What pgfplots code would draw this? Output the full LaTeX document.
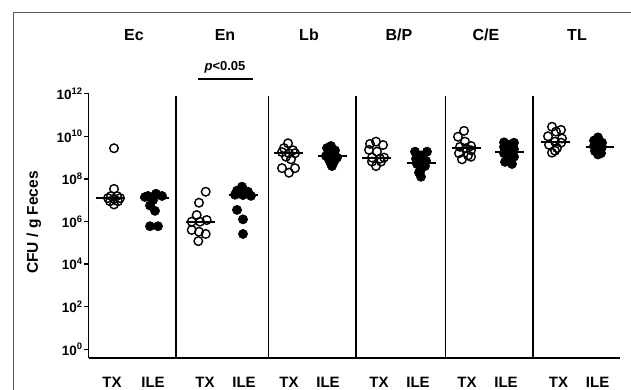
\documentclass[border=0pt]{standalone}
\usepackage{fontspec}
\setmainfont{Liberation Sans}
\usepackage{pgfplots}
\pgfplotsset{compat=1.18}
\begin{document}
\begin{tikzpicture}[x=1pt,y=1pt]
\useasboundingbox (0,0) rectangle (631,390);
\draw[black!65, line width=1pt] (13.3,-5) -- (13.3,377.7) -- (640,377.7);
% titles
\begin{scope}[every node/.style={font=\bfseries\fontsize{16}{18}\selectfont}]
\node at (134,355) {Ec};
\node at (225,355) {En};
\node at (309,355) {Lb};
\node at (399,355) {B/P};
\node at (486,355) {C/E};
\node at (577,355) {TL};
\end{scope}
\node[font=\bfseries\fontsize{13}{15}\selectfont] at (225,323) {\textit{p}<0.05};
\draw[black, line width=1.8pt] (198,311) -- (253,311);
\node[rotate=90, font=\bfseries\fontsize{15.5}{17}\selectfont] at (34,167.5) {CFU / g Feces};
\begin{axis}[
  at={(88.5pt,32pt)}, anchor=south west,
  scale only axis, width=531.5pt, height=264.3pt,
  xmin=88.5, xmax=620, ymode=log, ymin=0.39, ymax=1e12,
  axis x line=bottom, axis y line=left,
  axis line style={-, line width=1.7pt},
  clip=false,
  ytick={1,1e2,1e4,1e6,1e8,1e10,1e12},
  yticklabels={10\textsuperscript{0},10\textsuperscript{2},10\textsuperscript{4},10\textsuperscript{6},10\textsuperscript{8},10\textsuperscript{10},10\textsuperscript{12}},
  yticklabel style={font=\bfseries\fontsize{13.5}{15}\selectfont, inner sep=1.2pt},
  ytick style={line width=1.4pt, black},
  tick align=outside, major tick length=4.5pt,
  minor ytick={},
  xtick={112,153,205,244,289,328,379,418,467,506,558.5,597.6},
  xticklabels={TX,ILE,TX,ILE,TX,ILE,TX,ILE,TX,ILE,TX,ILE},
  xticklabel style={font=\bfseries\fontsize{15}{17}\selectfont, anchor=center, yshift=-19.7pt},
  xtick style={draw=none},
  every axis plot/.append style={black},
]
% separators
\foreach \s in {176,268.4,356,445.5,533.2} {
  \edef\tmp{\noexpand\draw[black, line width=1.7pt] (axis cs:\s,0.39) -- (axis cs:\s,7.9e11);}
  \tmp
}
\pgfplotsset{open/.style={only marks, mark=o, mark size=4.3pt, line width=1.4pt, black},
             filled/.style={only marks, mark=*, mark size=4.6pt, line width=0.6pt, black, fill=black},
             med/.style={black, line width=2pt, no marks}}
% Ec
\addplot[open] coordinates {(114,2.75e9) (114,3.39e7) (111,1.58e7) (117,1.58e7) (108,1.26e7) (120,1.26e7) (114,1.12e7) (110,8.91e6) (118,8.91e6) (114,6.31e6)};
\addplot[med] coordinates {(96,1.3e7) (125,1.3e7)};
\addplot[filled] coordinates {(148,1.58e7) (156,2.0e7) (162,1.58e7) (145,1.41e7) (153,1.0e7) (150,5.62e6) (155,3.16e6) (150,6.0e5) (158,6.0e5)};
\addplot[med] coordinates {(140,1.3e7) (169,1.3e7)};
% En
\addplot[open] coordinates {(205.7,2.5e7) (199,7.6e6) (196.7,2.0e6) (206.7,1.17e6) (191.7,9.8e5) (200,9.8e5) (191.7,4.0e5) (199,3.3e5) (205.7,2.6e5) (198.3,1.2e5)};
\addplot[med] coordinates {(186,9.1e5) (215,9.1e5)};
\addplot[filled] coordinates {(242,4.3e7) (237,2.8e7) (248,2.5e7) (235,1.8e7) (243,1.74e7) (251,1.6e7) (237,3.5e6) (243,1.26e6) (243,2.6e5)};
\addplot[med] coordinates {(228.5,1.74e7) (257.5,1.74e7)};
% Lb
\addplot[open] coordinates {(288,4.7e9) (284,2.8e9) (293,2.2e9) (282,1.8e9) (289,1.6e9) (295,1.6e9) (286,1.1e9) (291,8.3e8) (282,3.2e8) (295,3.2e8) (289,1.95e8)};
\addplot[med] coordinates {(273.5,1.6e9) (302.5,1.6e9)};
\addplot[filled] coordinates {(331,3.5e9) (327,2.8e9) (335,2.2e9) (329,1.8e9) (334,1.4e9) (326,1.2e9) (337,1.0e9) (329,7.9e8) (334,6.3e8) (331,5.0e8) (332,4.0e8)};
\addplot[med] coordinates {(318,1.17e9) (347,1.17e9)};
% B/P
\addplot[open] coordinates {(376,5.6e9) (370,4.4e9) (383,3.9e9) (369,2.3e9) (377,1.9e9) (384,1.0e9) (372,1.0e9) (380,8.9e8) (372,6.5e8) (381,6.5e8) (376,4.0e8)};
\addplot[med] coordinates {(362,1.0e9) (391,1.0e9)};
\addplot[filled] coordinates {(415,1.9e9) (427,1.9e9) (421,1.26e9) (416,8.9e8) (426,7.1e8) (421,5.75e8) (417,5.0e8) (425,4.0e8) (421,2.8e8) (419,2.0e8) (421,1.26e8)};
\addplot[med] coordinates {(406.5,5.75e8) (435.5,5.75e8)};
% C/E
\addplot[open] coordinates {(464,1.8e10) (458,9.5e9) (465,5.6e9) (471,3.5e9) (460,3.2e9) (466,2.75e9) (471,2.2e9) (459,1.6e9) (468,1.26e9) (471,1.1e9) (462,8.3e8)};
\addplot[med] coordinates {(451.5,2.75e9) (480.5,2.75e9)};
\addplot[filled] coordinates {(504,5.2e9) (514,5.0e9) (509,4.0e9) (504,3.2e9) (514,2.5e9) (509,1.8e9) (504,1.6e9) (514,1.1e9) (509,7.9e8) (505,6.3e8) (512,5.0e8)};
\addplot[med] coordinates {(495,1.8e9) (524,1.8e9)};
% TL
\addplot[open] coordinates {(552,2.8e10) (561,2.0e10) (556,1.66e10) (548,1.0e10) (562,7.9e9) (555,5.6e9) (561,5.0e9) (549,4.0e9) (557,2.8e9) (555,2.1e9) (552,1.7e9)};
\addplot[med] coordinates {(540.5,5.6e9) (569.5,5.6e9)};
\addplot[filled] coordinates {(598,8.9e9) (594,6.3e9) (602,5.0e9) (598,4.0e9) (594,3.5e9) (602,3.2e9) (597,2.8e9) (601,2.5e9) (595,2.0e9) (601,1.6e9) (598,1.4e9)};
\addplot[med] coordinates {(585.5,3.24e9) (614,3.24e9)};
\end{axis}
\end{tikzpicture}
\end{document}
